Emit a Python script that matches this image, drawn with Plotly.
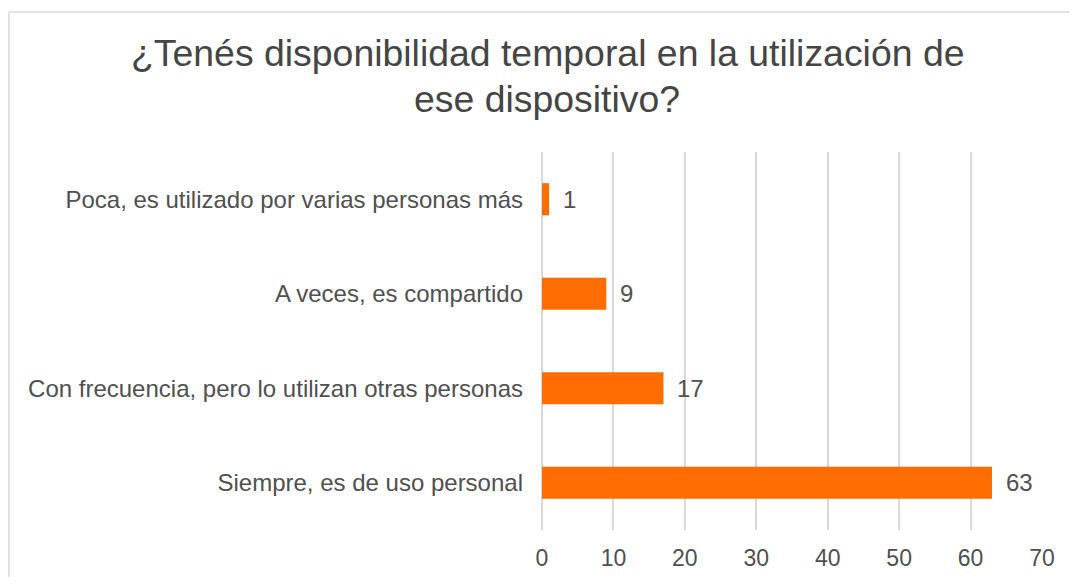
import plotly.graph_objects as go

categories = [
    "Poca, es utilizado por varias personas más",
    "A veces, es compartido",
    "Con frecuencia, pero lo utilizan otras personas",
    "Siempre, es de uso personal",
]
values = [1, 9, 17, 63]
x_ticks = [0, 10, 20, 30, 40, 50, 60, 70]
title_lines = ["¿Tenés disponibilidad temporal en la utilización de", "ese dispositivo?"]

FONT = "Liberation Sans, Arial, sans-serif"
TXT = "#505050"
GRID = "#D9D9D9"

fig = go.Figure()
fig.add_trace(go.Bar(
    x=values, y=categories, orientation="h",
    marker=dict(color="#FF6C00", line=dict(width=0)),
    hoverinfo="x+y",
))

for v, c in zip(values, categories):
    fig.add_annotation(x=v, y=c, xref="x", yref="y", text=str(v), showarrow=False,
                       xanchor="left", yanchor="middle", xshift=12,
                       font=dict(family=FONT, size=24, color=TXT))

title_y = [1.263, 1.140]
for t, yy in zip(title_lines, title_y):
    fig.add_annotation(x=0.01, y=yy, xref="paper", yref="paper", text=t, showarrow=False,
                       xanchor="center", yanchor="middle",
                       font=dict(family=FONT, size=37.4, color="#454545"))

# chart frame (top and left edges visible)
fig.add_shape(type="line", xref="paper", yref="paper", x0=-1.066, x1=1.1, y0=1.3704, y1=1.3704,
              line=dict(color="#D9D9D9", width=1.5))
fig.add_shape(type="line", xref="paper", yref="paper", x0=-1.066, x1=-1.066, y0=1.3704, y1=-0.2,
              line=dict(color="#D9D9D9", width=1.5))

fig.update_layout(
    width=1061, height=569,
    margin=dict(l=534, r=27, t=144, b=47, autoexpand=False),
    paper_bgcolor="white", plot_bgcolor="white",
    bargap=0.66,
    showlegend=False,
    font=dict(family=FONT, size=24, color=TXT),
    xaxis=dict(range=[0, 70], tickvals=x_ticks, ticktext=[str(t) for t in x_ticks],
               showgrid=True, gridcolor=GRID, gridwidth=2,
               zeroline=True, zerolinecolor=GRID, zerolinewidth=2,
               showline=False, ticks="", ticklabelstandoff=12, automargin=False,
               tickfont=dict(family=FONT, size=23, color=TXT), fixedrange=True),
    yaxis=dict(categoryorder="array", categoryarray=categories, range=[3.5, -0.5],
               showgrid=False, zeroline=False, showline=False, ticks="",
               ticklabelstandoff=18, automargin=False,
               tickfont=dict(family=FONT, size=24, color=TXT), fixedrange=True),
)

fig.write_html("out.html")
